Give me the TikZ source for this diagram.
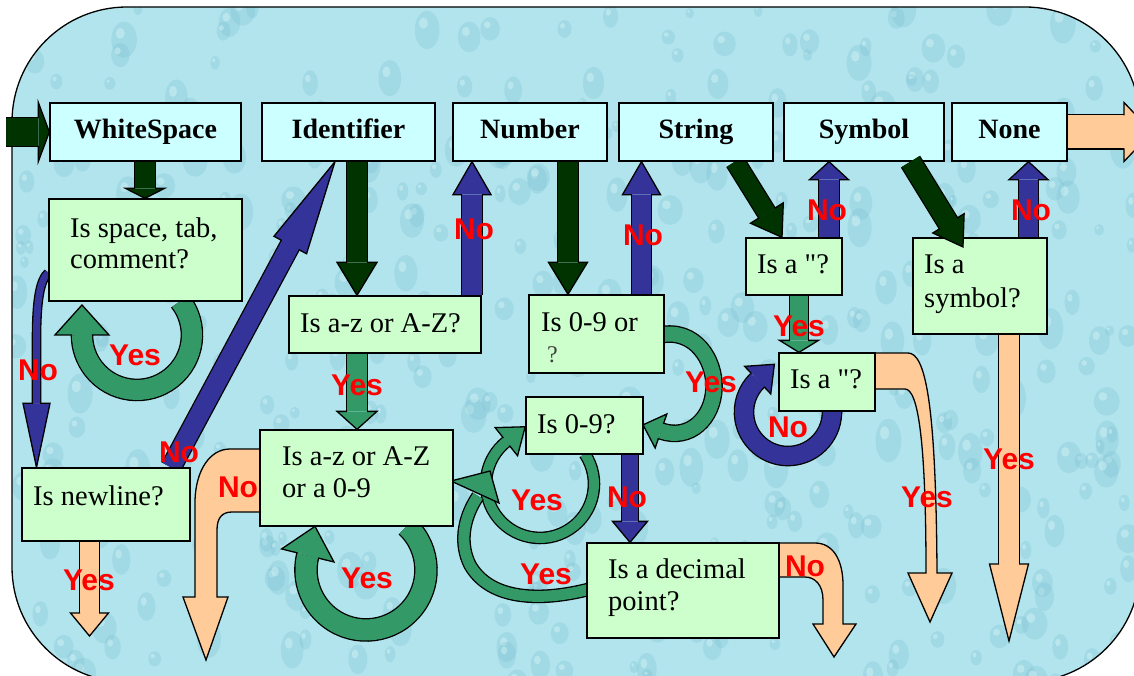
\documentclass[tikz,border=0pt]{standalone}
\usepackage{fontspec}
\setmainfont{Liberation Serif}
\newfontfamily\labfont{Liberation Sans}
\usetikzlibrary{decorations.markings,calc}
\definecolor{bgc}{RGB}{178,228,237}
\definecolor{dropc}{RGB}{120,190,208}
\definecolor{hilite}{RGB}{215,245,250}
\definecolor{cyanbox}{RGB}{204,255,255}
\definecolor{greenbox}{RGB}{204,255,204}
\definecolor{dkgreen}{RGB}{0,51,0}
\definecolor{navy}{RGB}{51,51,153}
\definecolor{mgreen}{RGB}{51,153,102}
\definecolor{peach}{RGB}{255,204,153}
\definecolor{labred}{RGB}{255,0,0}
\newcommand\hdrf{\fontsize{28}{32}\selectfont\bfseries}
\newcommand\bodyf{\fontsize{28.5}{32}\selectfont}
\newcommand\labf{\labfont\bfseries\fontsize{30}{34}\selectfont}
% thick block arrow: head ends at path end
\newcommand\fatpath[5]{%
 \draw[line width=#2pt+2.6pt, draw=black, shorten >=#4pt] #5;
 \draw[line width=#2pt, draw=#1, shorten >=#4pt] #5;
 \path[decorate, decoration={markings, mark=at position 0.99999 with {%
   \fill[#1] (-#4,-#3) -- (0,0) -- (-#4,#3) -- cycle;
   \draw[black, line width=1.3pt, line join=miter] (-#4,-#2/2) -- (-#4,-#3) -- (0,0) -- (-#4,#3) -- (-#4,#2/2);}}] #5;}
% thick block arrow: head placed beyond path end
\newcommand\fatarc[5]{%
 \draw[line width=#2pt+2.6pt, draw=black] #5;
 \draw[line width=#2pt, draw=#1] #5;
 \path[decorate, decoration={markings, mark=at position 0.99999 with {%
   \fill[#1] (0,-#3) -- (#4,0) -- (0,#3) -- cycle;
   \draw[black, line width=1.3pt, line join=miter] (0,-#2/2) -- (0,-#3) -- (#4,0) -- (0,#3) -- (0,#2/2);}}] #5;}
\newcommand\fatband[3]{%
 \draw[line width=#2pt+2.6pt, draw=black] #3;
 \draw[line width=#2pt, draw=#1] #3;}
\newcommand\bx[7]{\node[#1, minimum width=#5pt-#3pt, minimum height=#6pt-#4pt] (#2) at ({(#3+#5)/2},{(#4+#6)/2}) {#7};}
\tikzset{
 cbox/.style={draw=black, line width=1.3pt, fill=cyanbox, inner sep=0pt, text height=18.5pt, text depth=5pt, font=\hdrf},
 gbox/.style={draw=black, line width=1.3pt, fill=greenbox, inner sep=0pt},
 txt/.style={anchor=base west, inner sep=0pt, font=\bodyf},
 lab/.style={inner sep=0pt, font=\labf, text=labred},
 shape3/.style={fill=#1, draw=black, line width=1.3pt, line join=miter},
}
\begin{document}
\begin{tikzpicture}[x=1pt,y=-1pt]
\useasboundingbox (0,0) rectangle (1134,676);
\clip (0,0) rectangle (1134,676);
\fill[white] (0,0) rectangle (1134,676);
\fill[bgc, rounded corners=115pt] (12,7) rectangle (1140,682);
% water-drop texture
\begin{scope}
\clip[rounded corners=115pt] (12,7) rectangle (1140,682);
\pgfmathsetseed{4217}
\foreach \i in {1,...,420}{%
  \pgfmathsetmacro\xx{12+rnd*1128}%
  \pgfmathsetmacro\yy{7+rnd*675}%
  \pgfmathsetmacro\rx{4+rnd*9}%
  \pgfmathsetmacro\ry{\rx*(1.1+rnd*0.6)}%
  \fill[dropc, opacity=0.28] (\xx,\yy) ellipse [x radius=\rx, y radius=\ry];
  \fill[hilite, opacity=0.45] (\xx-\rx*0.3,\yy-\ry*0.35) ellipse [x radius=\rx*0.35, y radius=\ry*0.3];
}
\end{scope}
\draw[black, line width=1.3pt, rounded corners=115pt] (12,7) rectangle (1140,682);

\coordinate (entry) at (6,132);
\coordinate (exittip) at (1152,132);
\coordinate (nlyes) at (89.5,636);
\coordinate (symyes) at (1009,641);
\coordinate (symtip) at (963,247);

% named box positions (invisible), boxes are drawn on top of the arrows later
\begin{scope}[opacity=0]
\bx{cbox}{ws}{50}{103}{241}{161}{}
\bx{cbox}{id}{262}{103}{435}{161}{}
\bx{cbox}{num}{453}{103}{607}{161}{}
\bx{cbox}{str}{619}{103}{773}{161}{}
\bx{cbox}{sym}{784}{103}{944}{161}{}
\bx{cbox}{none}{952}{103}{1067}{161}{}
\bx{gbox}{spc}{49}{199}{242}{301}{}
\bx{gbox}{az}{289}{296}{481}{353}{}
\bx{gbox}{nl}{22}{468}{190}{541}{}
\bx{gbox}{az9}{260}{430}{453}{526}{}
\bx{gbox}{nq}{529}{295}{664}{373}{}
\bx{gbox}{nd}{526}{397}{643}{454}{}
\bx{gbox}{dec}{587}{543}{779}{638}{}
\bx{gbox}{qa}{746}{238}{842}{295}{}
\bx{gbox}{qb}{779}{353}{875}{411}{}
\bx{gbox}{symq}{913}{238}{1047}{334}{}
\end{scope}

% ---- straight arrows
\fatpath{dkgreen}{28}{29.5}{11}{(entry) -- (ws.west)}
\fatpath{peach}{33}{29.5}{28}{(none.east) -- (exittip)}
\fatpath{dkgreen}{20}{19.5}{10}{(145,0 |- ws.south) -- (145,0 |- spc.north)}
\fatpath{dkgreen}{20}{20}{33}{(357,0 |- id.south) -- (357,0 |- az.north)}
\fatpath{navy}{20}{19}{33}{(472,0 |- az.north) -- (472,0 |- num.south)}
\fatpath{mgreen}{20}{20}{18}{(357,0 |- az.south) -- (357,0 |- az9.north)}
\fatpath{dkgreen}{20}{19.5}{32}{(568,0 |- num.south) -- (568,0 |- nq.north)}
\fatpath{navy}{19}{19}{33}{(641.5,0 |- nq.north) -- (641.5,0 |- str.south)}
\fatpath{navy}{16}{17.5}{21}{(630,0 |- nd.south) -- (630,0 |- dec.north)}
\fatpath{dkgreen}{18}{19.3}{28.6}{(735,0 |- str.south) -- (782,0 |- qa.north)}
\fatpath{navy}{20}{19.5}{18}{(829,0 |- qa.north) -- (829,0 |- sym.south)}
\fatpath{mgreen}{18}{19.5}{12}{(799,0 |- qa.south) -- (799,0 |- qb.north)}
\fatpath{navy}{19}{19.5}{18}{(1028.5,0 |- symq.north) -- (1028.5,0 |- none.south)}
\fatpath{peach}{20}{19.5}{77}{(1009,0 |- symq.south) -- (symyes)}
\fatpath{peach}{19}{19}{23}{(89.5,0 |- nl.south) -- (nlyes)}
\fatpath{navy}{19}{18.5}{94.6}{(171,0 |- nl.north) -- (335,0 |- id.south)}
\fatpath{navy}{7}{13.5}{64}{($(spc.south west)+(0,-29)$) .. controls (40,280) and (36.5,300) .. (36.5,340) -- (36.5,0 |- nl.north)}

% ---- bent peach arrows
\filldraw[shape3=peach] (265,449) -- (230,449) .. controls (210,449) and (196,470) .. (195,500) -- (195,597) -- (183,597) -- (206,660) -- (228,597) -- (217,597) -- (217,530) .. controls (217,518) and (222,512) .. (232,512) -- (265,512) -- cycle;
\filldraw[shape3=peach] (775,543) -- (815,543) .. controls (833,543) and (843,560) .. (843,585) -- (843,624) -- (856,624) -- (834,657) -- (813,624) -- (823,624) -- (823,600) .. controls (823,585) and (815,577) .. (805,577) -- (775,577) -- cycle;
\filldraw[shape3=peach] (871,353) -- (908,353) .. controls (925,353) and (936,400) .. (937,573) -- (952,573) -- (930,622) -- (908,573) -- (926,573) .. controls (926,440) and (918,389) .. (905,389) -- (871,389) -- cycle;

% ---- loops
\fatarc{mgreen}{20}{27}{30}{(180.3,301.1) arc[start angle=-38, end angle=180, radius=55]}
\fatarc{mgreen}{21}{27}{30}{(406.9,526.1) arc[start angle=-47, end angle=194, radius=60]}
\fatarc{mgreen}{10}{18}{24}{(584.9,454) arc[start angle=-33.7, end angle=231.5, radius=54]}
\fatband{mgreen}{11}{(590,589) .. controls (540,602) and (490,600) .. (470,565) .. controls (460,545) and (462,520) .. (478,496)}
\filldraw[shape3=mgreen] (451,481) -- (490,471) -- (499,503) -- cycle;
\fatarc{mgreen}{15}{18}{19}{(660,335) .. controls (695,328) and (715,360) .. (714,388) .. controls (713,418) and (690,441) .. (661,431)}
\fatarc{navy}{18}{19}{23}{(831.3,404.4) arc[start angle=-10, end angle=226.5, radius=44]}

% ---- boxes drawn
\bx{cbox}{wsB}{50}{103}{241}{161}{WhiteSpace}
\bx{cbox}{idB}{262}{103}{435}{161}{Identifier}
\bx{cbox}{numB}{453}{103}{607}{161}{Number}
\bx{cbox}{strB}{619}{103}{773}{161}{String}
\bx{cbox}{symB}{784}{103}{944}{161}{Symbol}
\bx{cbox}{noneB}{952}{103}{1067}{161}{None}
\bx{gbox}{spcB}{49}{199}{242}{301}{}
\bx{gbox}{azB}{289}{296}{481}{353}{}
\bx{gbox}{nlB}{22}{468}{190}{541}{}
\bx{gbox}{az9B}{260}{430}{453}{526}{}
\bx{gbox}{nqB}{529}{295}{664}{373}{}
\bx{gbox}{ndB}{526}{397}{643}{454}{}
\bx{gbox}{decB}{587}{543}{779}{638}{}
\bx{gbox}{qaB}{746}{238}{842}{295}{}
\bx{gbox}{qbB}{779}{353}{875}{411}{}
\bx{gbox}{symqB}{913}{238}{1047}{334}{}

% ---- box texts
\node[txt] (t1) at (70,237) {Is space, tab,};
\node[txt] (t2) at (70,268) {comment?};
\node[txt] (t3) at (300,332) {Is a-z or A-Z?};
\node[txt] (t4) at (33,505) {Is newline?};
\node[txt] (t5) at (282,465) {Is a-z or A-Z};
\node[txt] (t6) at (282,497) {or a 0-9};
\node[txt] (t7) at (541,331) {Is 0-9 or};
\node[txt, font=\fontsize{24}{28}\selectfont, text=black!75] (t8) at (547,362) {?};
\node[txt] (t9) at (537,433) {Is 0-9?};
\node[txt] (t10) at (608,578) {Is a decimal};
\node[txt] (t11) at (608,610) {point?};
\node[txt] (t12) at (757,273) {Is a \textquotedbl?};
\node[txt] (t13) at (790,388) {Is a \textquotedbl?};
\node[txt] (t14) at (924,273) {Is a};
\node[txt] (t15) at (924,307) {symbol?};

% ---- arrow drawn over a box
\fatpath{dkgreen}{20}{18.4}{27.7}{(910.5,0 |- sym.south) -- (symtip)}

% ---- labels
\node[lab] (l1) at (38,370) {No};
\node[lab] (l2) at (135,355) {Yes};
\node[lab] (l3) at (179,452) {No};
\node[lab] (l4) at (89,580) {Yes};
\node[lab] (l5) at (238,487) {No};
\node[lab] (l6) at (357,385) {Yes};
\node[lab] (l7) at (474,229) {No};
\node[lab] (l8) at (367,578) {Yes};
\node[lab] (l9) at (643,235) {No};
\node[lab] (l10) at (711,382) {Yes};
\node[lab] (l11) at (537,500) {Yes};
\node[lab] (l12) at (627,497) {No};
\node[lab] (l13) at (546,574) {Yes};
\node[lab] (l14) at (805,566) {No};
\node[lab] (l15) at (827,210) {No};
\node[lab] (l16) at (799,326) {Yes};
\node[lab] (l17) at (788,427) {No};
\node[lab] (l18) at (927,497) {Yes};
\node[lab] (l19) at (1031,210) {No};
\node[lab] (l20) at (1009,459) {Yes};
\end{tikzpicture}
\end{document}
